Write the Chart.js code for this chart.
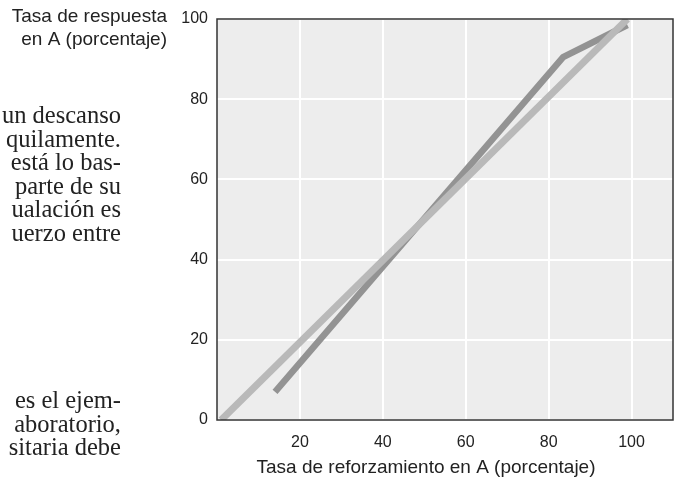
<!DOCTYPE html>
<html>
<head>
<meta charset="utf-8">
<script src="https://cdn.jsdelivr.net/npm/chart.js@4"></script>
<style>
  html, body { margin: 0; padding: 0; background: #fff; }
  #wrap { position: relative; width: 678px; height: 483px; overflow: hidden; }
  canvas { position: absolute; left: 0; top: 0; }
  .page { position: absolute; left: 0; width: 121px; overflow: hidden;
          font-family: "Liberation Serif", "DejaVu Serif", serif; font-size: 24.5px;
          line-height: 23.6px; color: #222; }
  .page div { white-space: nowrap; text-align: right; }
</style>
</head>
<body>
<div id="wrap">
  <canvas id="chart" width="678" height="483"></canvas>
  <div class="page" style="top:103px">
    <div>un descanso</div>
    <div>quilamente.</div>
    <div>está lo bas-</div>
    <div>parte de su</div>
    <div>ualación es</div>
    <div>uerzo entre</div>
  </div>
  <div class="page" style="top:388px">
    <div>es el ejem-</div>
    <div>aboratorio,</div>
    <div>sitaria debe</div>
  </div>
</div>
<script>
// Data
const reforzamiento = [14, 83.5, 99];      // tasa de reforzamiento en A (%)
const respuesta = [7, 90.5, 98.5];          // tasa de respuesta en A (%)
const igualacionX = [1, 99];                // línea de igualación perfecta
const igualacionY = [0, 100];
const xTicks = [20, 40, 60, 80, 100];
const yTicks = [0, 20, 40, 60, 80, 100];

const sans = "'Liberation Sans', Roboto, sans-serif";

const toPoints = (xs, ys) => xs.map((x, i) => ({ x: x, y: ys[i] }));

// Plot background, frame and axis titles
const decor = {
    id: 'decor',
    beforeDraw(chart) {
        const { ctx, chartArea: a } = chart;
        ctx.save();
        ctx.fillStyle = '#ededed';
        ctx.fillRect(a.left, a.top, a.right - a.left, a.bottom - a.top);
        ctx.restore();
    },
    afterDraw(chart) {
        const { ctx, chartArea: a } = chart;
        ctx.save();
        ctx.strokeStyle = '#333';
        ctx.lineWidth = 1.5;
        ctx.strokeRect(a.left, a.top, a.right - a.left, a.bottom - a.top);
        ctx.fillStyle = '#222';
        ctx.font = '19px ' + sans;
        ctx.textAlign = 'right';
        ctx.textBaseline = 'alphabetic';
        ctx.fillText('Tasa de respuesta', 167, 22);
        ctx.fillText('en A (porcentaje)', 167, 45);
        ctx.textAlign = 'center';
        ctx.fillText('Tasa de reforzamiento en A (porcentaje)', 426, 473);
        ctx.restore();
    }
};

new Chart(document.getElementById('chart'), {
    type: 'line',
    data: {
        datasets: [{
            label: 'Igualación',
            data: toPoints(igualacionX, igualacionY),
            borderColor: '#b9b9b9',
            borderWidth: 7,
            pointRadius: 0,
            tension: 0,
            clip: 0
        }, {
            label: 'Respuesta',
            data: toPoints(reforzamiento, respuesta),
            borderColor: '#939393',
            borderWidth: 6.5,
            pointRadius: 0,
            tension: 0,
            borderJoinStyle: 'miter',
            clip: 0
        }]
    },
    options: {
        responsive: false,
        animation: false,
        layout: { padding: { left: 0, right: 5, top: 19, bottom: 0 } },
        scales: {
            x: {
                type: 'linear',
                min: 0,
                max: 110,
                afterBuildTicks: (s) => { s.ticks = xTicks.map(v => ({ value: v })); },
                afterFit: (s) => { s.height = 63; },
                grid: { color: '#fff', lineWidth: 2, drawTicks: false },
                border: { display: false },
                ticks: { padding: 13, color: '#222', font: { size: 16, family: sans } }
            },
            y: {
                min: 0,
                max: 100,
                afterBuildTicks: (s) => { s.ticks = yTicks.map(v => ({ value: v })); },
                afterFit: (s) => { s.width = 217; },
                grid: { color: '#fff', lineWidth: 2, drawTicks: false },
                border: { display: false },
                ticks: { padding: 9, color: '#222', font: { size: 16, family: sans } }
            }
        },
        plugins: { legend: { display: false }, tooltip: { enabled: false } }
    },
    plugins: [decor]
});
</script>
</body>
</html>
